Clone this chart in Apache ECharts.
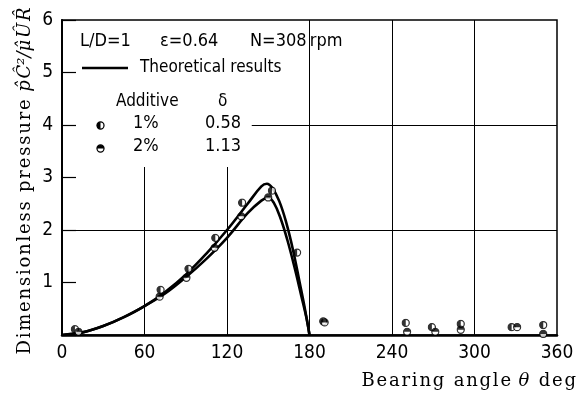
<!DOCTYPE html>
<html><head><meta charset="utf-8">
<script src="https://cdn.jsdelivr.net/npm/echarts@6/dist/echarts.min.js"></script>
<style>html,body{margin:0;padding:0;background:#fff}#c{width:586px;height:394px}</style>
</head><body><div id="c"></div>
<script>
// Theoretical curves [angle deg, pressure]
const theoryUpper = [[0,0],[15,0.05],[30,0.17],[45,0.34],[60,0.55],[75,0.82],[90,1.15],[105,1.55],[120,2.0],[135,2.5],[145,2.83],[149,2.88],[153,2.8],[158,2.55],[163,2.15],[168,1.62],[173,0.98],[177,0.45],[180,0]];
const theoryLower = [[0,0],[15,0.05],[30,0.17],[45,0.34],[60,0.55],[75,0.79],[90,1.1],[105,1.45],[120,1.85],[135,2.32],[145,2.56],[150,2.62],[154,2.52],[159,2.22],[164,1.8],[169,1.3],[174,0.75],[178,0.3],[180,0]];
// Measured points
const pts1pct = [[9.4,0.11],[71.7,0.86],[92,1.26],[111.5,1.85],[131,2.52],[152.7,2.75],[171,1.57],[190,0.26],[250,0.23],[269,0.15],[290,0.21],[327,0.15],[350,0.19]];
const pts2pct = [[12,0.06],[71,0.73],[90.5,1.09],[111,1.66],[130.4,2.26],[150,2.62],[191,0.24],[251,0.06],[271.5,0.06],[290,0.1],[331,0.15],[350,0.02]];
const xTicks = [0,60,120,180,240,300,360];
const yTicks = [1,2,3,4,5,6];
// Grid line segments in data coords: [x1,y1,x2,y2]
const gridSegs = [[60,0,60,3.2],[120,0,120,3.2],[180,0,180,6],[240,0,240,6],[300,0,300,6],[0,2,360,2],[138,4,360,4]];

const narrow = "'Liberation Sans Narrow','DejaVu Sans Condensed','DejaVu Sans',sans-serif";
const serif = "'DejaVu Serif','Liberation Serif',serif";
const sp = s => s.split('').join('\u200A');

function svgSym(half){
  const p = half==='left' ? "M5 1 A4 4 0 0 0 5 9 Z" : "M1 5 A4 4 0 0 1 9 5 Z";
  const s = "<svg xmlns='http://www.w3.org/2000/svg' width='10' height='10'><circle cx='5' cy='5' r='3.9' fill='white' stroke='black' stroke-width='1.4'/><path d='"+p+"' fill='black'/></svg>";
  return 'image://data:image/svg+xml;charset=utf-8,' + encodeURIComponent(s);
}
const sym1 = svgSym('left'), sym2 = svgSym('top');

const chart = echarts.init(document.getElementById('c'), null, {renderer:'canvas'});
chart.setOption({
  animation:false,
  backgroundColor:'#fff',
  grid:{left:62,right:29,top:20,bottom:59,show:true,borderColor:'#000',borderWidth:1.5,backgroundColor:'transparent'},
  xAxis:{type:'value',min:0,max:360,interval:60,
    axisLine:{show:true,lineStyle:{color:'#000',width:2.5}},
    axisTick:{show:false},splitLine:{show:false},
    axisLabel:{color:'#000',fontSize:19,fontFamily:narrow,margin:9,
      formatter:v=>xTicks.includes(v)?String(v):''}},
  yAxis:{type:'value',min:0,max:6,interval:1,
    axisLine:{show:true,lineStyle:{color:'#000',width:2}},
    axisTick:{show:true,inside:true,length:14,lineStyle:{color:'#000',width:1.2}},
    splitLine:{show:false},
    axisLabel:{color:'#000',fontSize:19,fontFamily:narrow,margin:9,
      formatter:v=>yTicks.includes(v)?String(v):''}},
  series:[
    {type:'line',data:theoryUpper,smooth:0.4,showSymbol:false,symbol:'none',lineStyle:{color:'#000',width:2.6},z:3,
      markLine:{silent:true,symbol:'none',label:{show:false},lineStyle:{color:'#000',width:1,type:'solid'},
        data:gridSegs.map(s=>[{coord:[s[0],s[1]]},{coord:[s[2],s[3]]}])}},
    {type:'line',data:theoryLower,smooth:0.4,showSymbol:false,symbol:'none',lineStyle:{color:'#000',width:2.6},z:3},
    {type:'scatter',data:pts1pct,symbol:sym1,symbolSize:9,z:5},
    {type:'scatter',data:pts2pct,symbol:sym2,symbolSize:9,z:5}
  ],
  graphic:[
    {type:'text',left:80,top:32,style:{text:'L/D=1',font:"18px "+narrow,fill:'#000'}},
    {type:'text',left:160,top:32,style:{text:'\u03B5=0.64',font:"18px "+narrow,fill:'#000'}},
    {type:'text',left:250,top:32,style:{text:'N=308\u2009rpm',font:"18px "+narrow,fill:'#000'}},
    {type:'line',shape:{x1:82,y1:68,x2:128,y2:68},style:{stroke:'#000',lineWidth:2.6}},
    {type:'text',left:140,top:59,style:{text:'Theoretical results',font:"17px "+narrow,fill:'#000'}},
    {type:'text',left:116,top:93,style:{text:'Additive',font:"17px "+narrow,fill:'#000'}},
    {type:'text',left:218,top:93,style:{text:'\u03B4',font:"17px "+narrow,fill:'#000'}},
    {type:'image',style:{image:sym1.slice(8),x:96,y:121,width:9,height:9}},
    {type:'image',style:{image:sym2.slice(8),x:96,y:144,width:9,height:9}},
    {type:'text',left:133,top:114,style:{text:'1%',font:"18px "+narrow,fill:'#000'}},
    {type:'text',left:205,top:114,style:{text:'0.58',font:"18px "+narrow,fill:'#000'}},
    {type:'text',left:133,top:137,style:{text:'2%',font:"18px "+narrow,fill:'#000'}},
    {type:'text',left:205,top:137,style:{text:'1.13',font:"18px "+narrow,fill:'#000'}},
    {type:'text',x:576,y:381,style:{text:'{a|'+sp('Bearing angle ')+'}{b|\u03B8}{a|\u200A'+sp(' deg')+'}',align:'right',verticalAlign:'middle',
      rich:{a:{font:"18px "+serif,fill:'#000'},b:{font:"italic 18px "+serif,fill:'#000'}}}},
    {type:'text',x:25,y:181,rotation:Math.PI/2,style:{text:'{a|'+sp('Dimensionless pressure ')+'}{b|p\u0302\u200A\u0108\u00B2/\u03BC\u0302\u200A\u00DB\u200AR\u0302}',align:'center',verticalAlign:'middle',
      rich:{a:{font:"18px "+serif,fill:'#000'},b:{font:"italic 18px "+serif,fill:'#000'}}}}
  ]
});
</script></body></html>
